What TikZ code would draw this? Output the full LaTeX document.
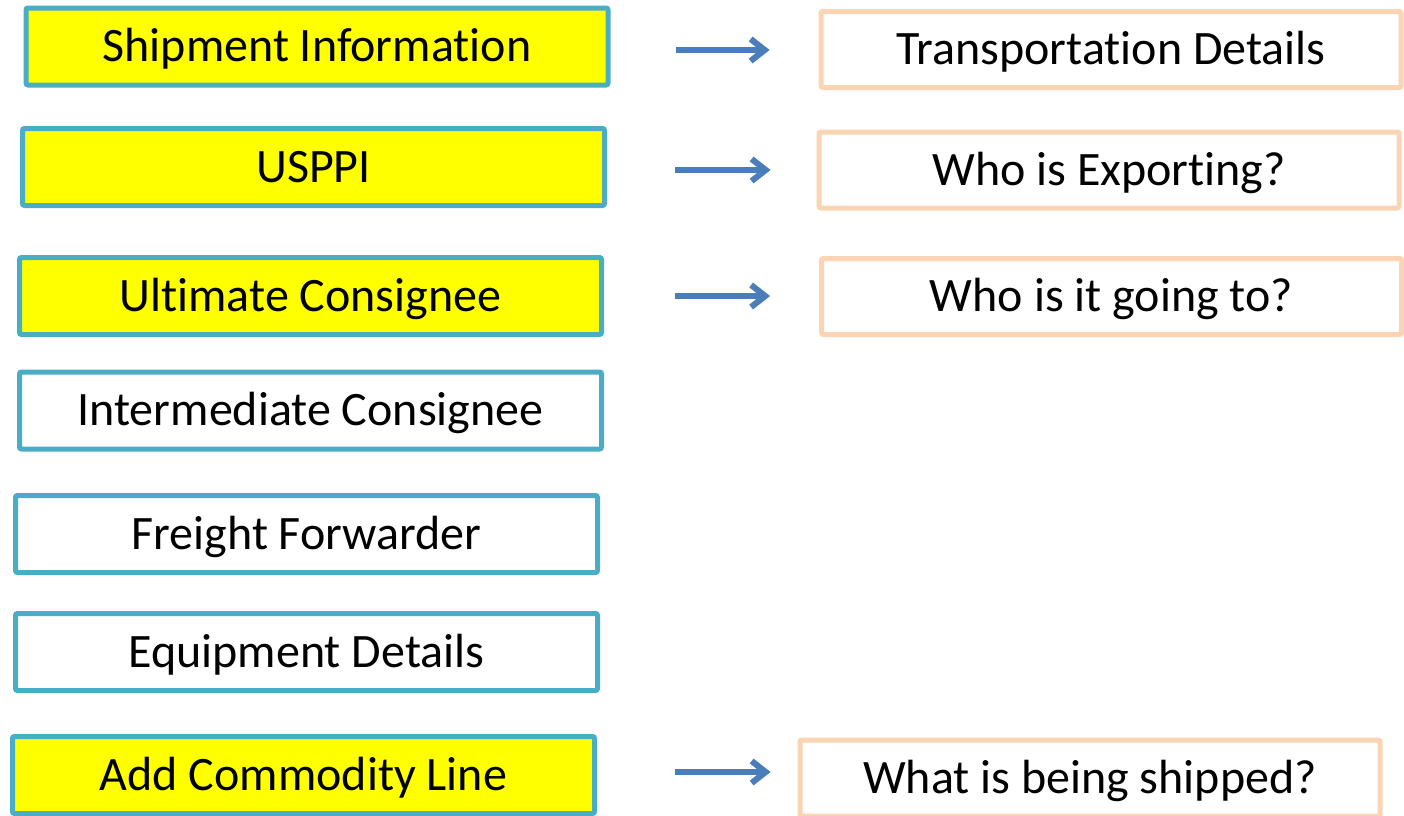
\documentclass[tikz,border=0pt]{standalone}
\usepackage{fontspec}
\setmainfont{Carlito}[Ligatures={NoCommon,NoContextual}]
\usetikzlibrary{arrows.meta}
\definecolor{tealb}{HTML}{4BACC6}
\definecolor{peach}{HTML}{FBD4B4}
\definecolor{arrblue}{HTML}{4A7EBB}
\definecolor{hlyellow}{HTML}{FFFF00}
\tikzset{
  x=1pt, y=-1pt,
  base/.style={draw, line width=5pt, rounded corners=2pt, inner sep=0pt,
    font=\fontsize{48}{57}\selectfont, text=black, anchor=center,
    text height=30pt, text depth=0pt},
  leftbox/.style={base, draw=tealb, fill=white, minimum width=582pt, minimum height=77pt},
  hl/.style={fill=hlyellow},
  rightbox/.style={base, draw=peach, fill=white, minimum width=580pt, minimum height=76pt},
  arr/.style={draw=arrblue, line width=6pt, -{Straight Barb[length=14pt,width=22pt]}},
  arrsh/.style={draw=black!45, opacity=0.35, line width=6pt, -{Straight Barb[length=14pt,width=22pt]}}
}
\begin{document}
\begin{tikzpicture}
\useasboundingbox (0,0) rectangle (1404,815);
\clip (0,0) rectangle (1404,815);
\fill[white] (0,0) rectangle (1404,815);
% left column
\node[leftbox, hl] (s1) at (317,46.5) {Shipment Information};
\node[leftbox, hl] (s2) at (313.5,167) {USPPI};
\node[leftbox, hl] (s3) at (310.5,296) {Ultimate Consignee};
\node[leftbox] (s4) at (310.5,410.5) {Intermediate Consignee};
\node[leftbox] (s5) at (306.5,534) {Freight Forwarder};
\node[leftbox] (s6) at (306.5,652) {Equipment Details};
\node[leftbox, hl] (s7) at (303.5,775) {Add Commodity Line};
% right column
\node[rightbox] (t1) at (1111,49.5) {Transportation Details};
\node[rightbox] (t2) at (1109,170) {Who is Exporting?};
\node[rightbox] (t3) at (1111.5,296.5) {Who is it going to?};
\node[rightbox] (t7) at (1090,778) {What is being shipped?};
% arrows (shadow first)
\begin{scope}[yshift=-4pt, xshift=2pt]
\draw[arrsh, shorten <=65pt, shorten >=49pt] ([yshift=-3.5pt]s1.east) -- ([yshift=-0.5pt]t1.west);
\draw[arrsh, shorten <=68pt, shorten >=46pt] ([yshift=-3pt]s2.east) -- (t2.west);
\draw[arrsh, shorten <=71pt, shorten >=49pt] (s3.east) -- ([yshift=0.5pt]t3.west);
\draw[arrsh, shorten <=78pt, shorten >=27pt] ([yshift=3pt]s7.east) -- ([yshift=6pt]t7.west);
\end{scope}
\draw[arr, shorten <=65pt, shorten >=49pt] ([yshift=-3.5pt]s1.east) -- ([yshift=-0.5pt]t1.west);
\draw[arr, shorten <=68pt, shorten >=46pt] ([yshift=-3pt]s2.east) -- (t2.west);
\draw[arr, shorten <=71pt, shorten >=49pt] (s3.east) -- ([yshift=0.5pt]t3.west);
\draw[arr, shorten <=78pt, shorten >=27pt] ([yshift=3pt]s7.east) -- ([yshift=6pt]t7.west);
\end{tikzpicture}
\end{document}
